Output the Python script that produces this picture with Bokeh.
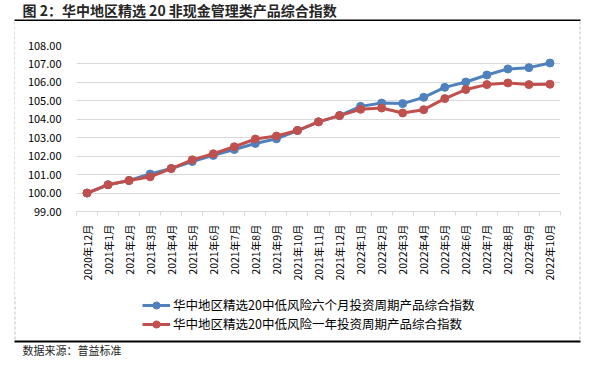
from bokeh.plotting import figure
from bokeh.layouts import column, row
from bokeh.models import (ColumnDataSource, FixedTicker, Range1d, Label,
                          Legend, LegendItem, NumeralTickFormatter)
from bokeh.embed import file_html
from bokeh.resources import INLINE
from math import pi

# ---- data ----
months = ["2020年12月", "2021年1月", "2021年2月", "2021年3月", "2021年4月", "2021年5月",
          "2021年6月", "2021年7月", "2021年8月", "2021年9月", "2021年10月", "2021年11月",
          "2021年12月", "2022年1月", "2022年2月", "2022年3月", "2022年4月", "2022年5月",
          "2022年6月", "2022年7月", "2022年8月", "2022年9月", "2022年10月"]
six_month = [100.00, 100.45, 100.68, 101.03, 101.33, 101.71, 102.04, 102.36, 102.69, 102.94,
             103.39, 103.86, 104.20, 104.70, 104.88, 104.85, 105.19, 105.73, 106.02, 106.40,
             106.73, 106.80, 107.05]
one_year = [100.00, 100.45, 100.68, 100.88, 101.33, 101.80, 102.13, 102.51, 102.93, 103.09,
            103.39, 103.86, 104.20, 104.54, 104.61, 104.34, 104.52, 105.12, 105.61, 105.88,
            105.97, 105.88, 105.90]
y_ticks = [99, 100, 101, 102, 103, 104, 105, 106, 107, 108]
series_names = ["华中地区精选20中低风险六个月投资周期产品综合指数",
                "华中地区精选20中低风险一年投资周期产品综合指数"]
title_text = "图 2：华中地区精选 20 非现金管理类产品综合指数"
source_text = "数据来源：普益标准"

BLUE = "#4F81BD"
RED = "#C0504D"
FONT = "Noto Sans CJK SC"
TXT = "#262626"
GRID = "#d9d9d9"
DASH = "#bfbfbf"

W = 581
TOP_H, MID_H, LEG_H = 21, 275, 61
LEFT_W, RIGHT_W = 15, 3
MAIN_W = W - LEFT_W - RIGHT_W
FL, FR, FT, FB = 76, 560, 45, 211   # plot-area edges in page pixels


def blank(w, h):
    f = figure(width=w, height=h, output_backend="svg", toolbar_location=None,
               x_range=Range1d(0, w), y_range=Range1d(h, 0),
               x_axis_location=None, y_axis_location=None, min_border=0)
    f.outline_line_color = None
    f.grid.visible = False
    f.border_fill_color = "white"
    f.background_fill_color = "white"
    return f


# ---- title strip with top rule ----
top = blank(W, TOP_H)
top.add_layout(Label(x=22, y=9.5, text=title_text, text_font=FONT, text_font_size="14px",
                     text_font_style="bold", text_baseline="middle", text_color=TXT))
top.quad(left=[14], right=[580], top=[19], bottom=[21], fill_color="black", line_color=None)

# ---- dashed side strips ----
left = blank(LEFT_W, MID_H)
left.segment(x0=[14.5], y0=[0], x1=[14.5], y1=[MID_H], line_color=DASH, line_dash="3 2",
             line_width=1)
right = blank(RIGHT_W, MID_H)
right.segment(x0=[1.5], y0=[0], x1=[1.5], y1=[MID_H], line_color=DASH, line_dash="3 2",
              line_width=1)

# ---- main chart ----
idx = list(range(len(months)))
src = ColumnDataSource(dict(x=idx, six=six_month, one=one_year))

p = figure(width=MAIN_W, height=MID_H, output_backend="svg", toolbar_location=None,
           x_range=Range1d(-0.5, len(months) - 0.5), y_range=Range1d(y_ticks[0], y_ticks[-1]),
           min_border_left=FL - LEFT_W, min_border_right=LEFT_W + MAIN_W - FR,
           min_border_top=FT - TOP_H, min_border_bottom=TOP_H + MID_H - FB)
p.outline_line_color = None
p.background_fill_color = "white"
p.border_fill_color = "white"

p.yaxis.ticker = FixedTicker(ticks=y_ticks)
p.yaxis.formatter = NumeralTickFormatter(format="0.00")
p.yaxis.axis_line_color = None
p.yaxis.major_tick_line_color = None
p.yaxis.minor_tick_line_color = None
p.yaxis.major_label_standoff = 9
p.yaxis.major_label_text_font = FONT
p.yaxis.major_label_text_font_size = "11px"
p.yaxis.major_label_text_color = "#000000"
p.ygrid.grid_line_color = GRID
p.ygrid.ticker = FixedTicker(ticks=y_ticks)

p.xaxis.ticker = FixedTicker(ticks=idx, minor_ticks=[i - 0.5 for i in range(len(months) + 1)])
p.xaxis.major_label_overrides = {i: m for i, m in enumerate(months)}
p.xaxis.major_label_orientation = pi / 2
p.xaxis.axis_line_color = GRID
p.xaxis.major_tick_line_color = None
p.xaxis.major_tick_out = 0
p.xaxis.major_tick_in = 0
p.xaxis.minor_tick_line_color = GRID
p.xaxis.minor_tick_out = 4
p.xaxis.minor_tick_in = 0
p.xaxis.major_label_standoff = 9
p.xaxis.major_label_text_font = FONT
p.xaxis.major_label_text_font_size = "10.5px"
p.xaxis.major_label_text_color = "#000000"
p.xgrid.grid_line_color = None

p.line("x", "six", source=src, line_color=BLUE, line_width=3)
p.scatter("x", "six", source=src, size=8, fill_color=BLUE, line_color=BLUE)
p.line("x", "one", source=src, line_color=RED, line_width=3)
p.scatter("x", "one", source=src, size=8, fill_color=RED, line_color=RED)

# ---- legend + bottom rule + source strip ----
leg = blank(W, LEG_H)
# legend key renderers share the chart's data; their marks fall outside this strip's view
k1 = [leg.line("x", "six", source=src, line_color=BLUE, line_width=3),
      leg.scatter("x", "six", source=src, size=8, fill_color=BLUE, line_color=BLUE)]
k2 = [leg.line("x", "one", source=src, line_color=RED, line_width=3),
      leg.scatter("x", "one", source=src, size=8, fill_color=RED, line_color=RED)]
legend = Legend(items=[LegendItem(label=series_names[0], renderers=k1, index=0),
                       LegendItem(label=series_names[1], renderers=k2, index=0)],
                location=(142, LEG_H - 37), orientation="vertical",
                background_fill_alpha=0, border_line_color=None,
                label_text_font=FONT, label_text_font_size="12.5px", label_text_color="#000000",
                glyph_width=28, glyph_height=18, label_standoff=3, spacing=0,
                padding=0, margin=0, label_height=18)
leg.add_layout(legend, "center")
leg.segment(x0=[14.5, 579.5], y0=[0, 0], x1=[14.5, 579.5], y1=[44, 44],
            line_color=DASH, line_dash="3 2", line_width=1)
leg.quad(left=[14], right=[580], top=[44], bottom=[46], fill_color="black", line_color=None)
leg.add_layout(Label(x=22, y=53, text=source_text, text_font=FONT, text_font_size="11px",
                     text_baseline="middle", text_color=TXT))

layout = column(top, row(column(left), p, column(right), spacing=0), leg, spacing=0)
open("out.html", "w").write(file_html(layout, INLINE))
